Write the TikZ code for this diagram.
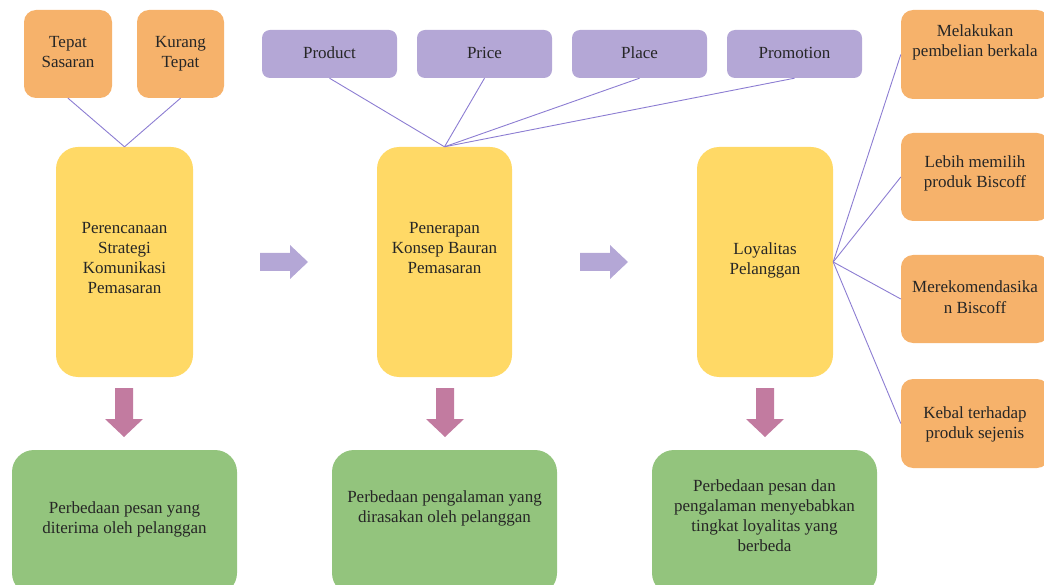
\documentclass[tikz,border=0pt]{standalone}
\usepackage{fontspec}
\setmainfont{Liberation Serif}
\definecolor{orng}{HTML}{F6B26B}
\definecolor{purp}{HTML}{B4A7D6}
\definecolor{yelw}{HTML}{FFD966}
\definecolor{grn}{HTML}{93C47D}
\definecolor{pnk}{HTML}{C27BA0}
\definecolor{lnk}{RGB}{140,125,210}
\newcommand\boxtext[2][0pt]{\raisebox{#1}[\height][\depth]{\begin{tabular}{@{}c@{}}#2\end{tabular}}}
\begin{document}
\begin{tikzpicture}[x=1pt,y=-1pt,
  bx/.style={rectangle, draw=none, inner sep=0pt, text=black!85, font=\fontsize{17}{20}\selectfont},
  orbox/.style={bx, fill=orng, rounded corners=12pt, minimum width=88pt, minimum height=88pt},
  rtbox/.style={bx, fill=orng, rounded corners=12pt, minimum width=148pt, minimum height=88pt},
  pubox/.style={bx, fill=purp, rounded corners=8pt, minimum width=135pt, minimum height=48pt},
  yebox/.style={bx, fill=yelw, rounded corners=22pt, minimum width=136pt, minimum height=230pt},
  grbox/.style={bx, fill=grn, rounded corners=22pt, minimum width=225pt, minimum height=145pt},
  link/.style={draw=lnk, line width=0.9pt},
  rarrow/.style={fill=purp},
  darrow/.style={fill=pnk}]
\useasboundingbox (0,0) rectangle (1044,585);
\clip (0,0) rectangle (1044,585);
% top orange
\node[orbox] (ts) at (68,54) {\boxtext[0pt]{Tepat\\Sasaran}};
\node[orbox, minimum width=87pt] (kt) at (180.5,54) {\boxtext[0pt]{Kurang\\Tepat}};
% purple
\node[pubox] (prod) at (329.5,54) {\boxtext[-1pt]{Product}};
\node[pubox] (pric) at (484.5,54) {\boxtext[-1pt]{Price}};
\node[pubox] (plac) at (639.5,54) {\boxtext[-1pt]{Place}};
\node[pubox] (prom) at (794.5,54) {\boxtext[-1pt]{Promotion}};
% yellow
\node[yebox, minimum width=137pt] (y1) at (124.5,262) {\boxtext[2pt]{Perencanaan\\Strategi\\Komunikasi\\Pemasaran}};
\node[yebox, minimum width=135pt] (y2) at (444.5,262) {\boxtext[12pt]{Penerapan\\Konsep Bauran\\Pemasaran}};
\node[yebox] (y3) at (765,262) {\boxtext[1pt]{Loyalitas\\Pelanggan}};
% right orange
\node[rtbox, minimum height=89pt] (r1) at (975,54.5) {\boxtext[12pt]{Melakukan\\pembelian berkala}};
\node[rtbox] (r2) at (975,177) {\boxtext[3pt]{Lebih memilih\\produk Biscoff}};
\node[rtbox] (r3) at (975,299) {\boxtext[0pt]{Merekomendasika\\n Biscoff}};
\node[rtbox, minimum height=89pt] (r4) at (975,423.5) {\boxtext[-1pt]{Kebal terhadap\\produk sejenis}};
% green
\node[grbox] (g1) at (124.5,522.5) {\boxtext[3pt]{Perbedaan pesan yang\\diterima oleh pelanggan}};
\node[grbox] (g2) at (444.5,522.5) {\boxtext[14pt]{Perbedaan pengalaman yang\\dirasakan oleh pelanggan}};
\node[grbox] (g3) at (764.5,522.5) {\boxtext[5pt]{Perbedaan pesan dan\\pengalaman menyebabkan\\tingkat loyalitas yang\\berbeda}};
% connectors
\draw[link] (ts.south) -- (y1.north);
\draw[link] (kt.south) -- (y1.north);
\foreach \n in {prod,pric,plac,prom} \draw[link] (\n.south) -- (y2.north);
\foreach \n in {r1,r2,r3,r4} \draw[link] (y3.east) -- (\n.west);
% right block arrows
\foreach \dx in {0,320}
  \fill[rarrow, xshift=\dx pt] (260,253) -- (290,253) -- (290,245) -- (308,262) -- (290,279) -- (290,271) -- (260,271) -- cycle;
% down block arrows
\foreach \dx in {0,321,641}
  \fill[darrow, xshift=\dx pt] (115,388) -- (133,388) -- (133,419) -- (143,419) -- (124,437) -- (105,419) -- (115,419) -- cycle;
\end{tikzpicture}
\end{document}
